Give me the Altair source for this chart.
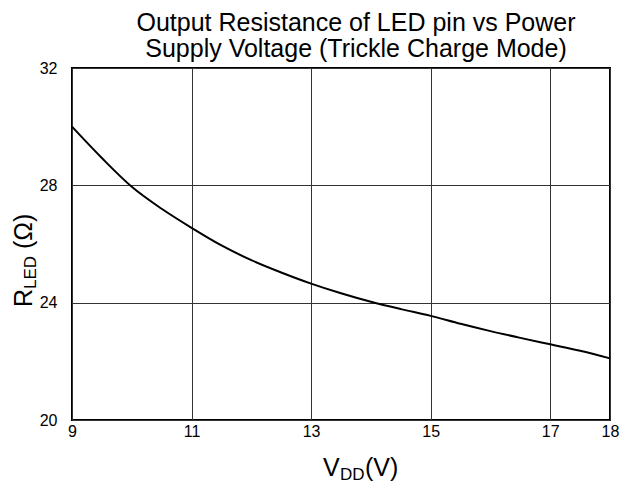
import altair as alt
import pandas as pd

FONT = "Liberation Sans"

TITLE_LINES = ["Output Resistance of LED pin vs Power",
               "Supply Voltage (Trickle Charge Mode)"]

VDD = [9, 9.5, 10, 10.5, 11, 11.5, 12, 12.5, 13, 13.5, 14, 14.5,
       15, 15.5, 16, 16.5, 17, 17.5, 18]
RLED = [30.0, 28.93, 27.95, 27.2, 26.55, 25.95, 25.45, 25.03, 24.65,
        24.32, 24.03, 23.78, 23.55, 23.28, 23.03, 22.8, 22.58, 22.36, 22.1]

X_TICKS = [9, 11, 13, 15, 17, 18]
Y_TICKS = [20, 24, 28, 32]

X_TITLE_PARTS = ["V", "DD", "(V)"]
Y_TITLE_PARTS = ["R", "LED", "(Ω)"]

df = pd.DataFrame({"vdd": VDD, "rled": RLED})

axis_common = dict(title=None, grid=True, ticks=False, domain=False,
                   labelFontSize=16, labelFont=FONT, labelColor="black",
                   labelFlush=False, gridColor="#333333", gridWidth=1)

line = alt.Chart(df).mark_line(color="black", strokeWidth=2,
                               interpolate="monotone").encode(
    x=alt.X("vdd:Q", scale=alt.Scale(domain=[9, 18], nice=False, zero=False),
            axis=alt.Axis(values=X_TICKS, labelPadding=3, **axis_common)),
    y=alt.Y("rled:Q", scale=alt.Scale(domain=[20, 32], nice=False, zero=False),
            axis=alt.Axis(values=Y_TICKS, labelPadding=15, **axis_common)),
)


def txt(s, x, y, size, align="center", angle=None):
    kw = dict(font=FONT, fontSize=size, color="black", align=align,
              baseline="alphabetic")
    if angle is not None:
        kw["angle"] = angle
    return alt.Chart(pd.DataFrame({"t": [s]})).mark_text(**kw).encode(
        text="t:N", x=alt.value(x), y=alt.value(y))


layers = [line,
          txt(TITLE_LINES[0], 284, -37, 25),
          txt(TITLE_LINES[1], 284, -11, 25),
          # x axis title with subscript
          txt(X_TITLE_PARTS[0], 251, 408, 25, align="left"),
          txt(X_TITLE_PARTS[1], 268, 412, 17, align="left"),
          txt(X_TITLE_PARTS[2], 293, 408, 25, align="left"),
          # y axis title with subscript (rotated)
          txt(Y_TITLE_PARTS[0], -40, 239, 25, align="left", angle=270),
          txt(Y_TITLE_PARTS[1], -36, 221, 17, align="left", angle=270),
          txt(Y_TITLE_PARTS[2], -40, 181, 25, align="left", angle=270),
          ]

chart = alt.layer(*layers).properties(
    width=538, height=352, autosize="none",
    padding={"left": 64, "top": 60, "right": 20, "bottom": 66},
).configure_view(stroke="black", strokeWidth=2)

chart.save("out.html", embed_options={"renderer": "svg", "actions": False})
